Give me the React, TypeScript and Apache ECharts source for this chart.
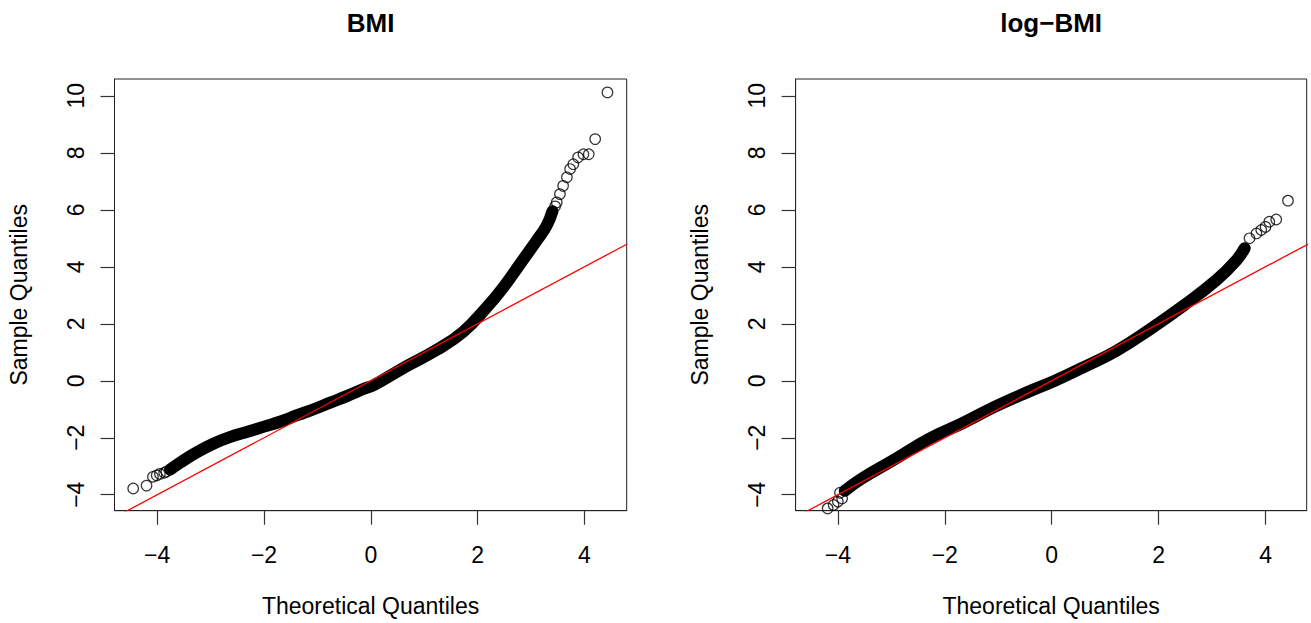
import React, { useEffect, useRef } from "react";
import * as echarts from "echarts";

// ---- data ----
const xTicks = [-4, -2, 0, 2, 4];
const yTicks = [-4, -2, 0, 2, 4, 6, 8, 10];

// BMI panel
const bmiLowTail = [[-4.45, -3.78], [-4.2, -3.68], [-4.08, -3.37], [-4.01, -3.32], [-3.95, -3.27], [-3.87, -3.23], [-3.83, -3.19]];
const bmiBand = [[-3.76, -3.12], [-3.56, -2.86], [-3.25, -2.5], [-2.94, -2.2], [-2.63, -1.97], [-2.31, -1.79], [-2.0, -1.61], [-1.69, -1.43], [-1.38, -1.21], [-1.07, -1.0], [-0.75, -0.76], [-0.44, -0.53], [-0.13, -0.28], [0.06, -0.15], [0.61, 0.45], [1.23, 1.08], [1.73, 1.72], [2.17, 2.58], [2.48, 3.28], [2.79, 4.09], [3.1, 4.91], [3.29, 5.44], [3.4, 5.95]];
const bmiHighTail = [[3.45, 6.12], [3.48, 6.26], [3.54, 6.55], [3.6, 6.84], [3.67, 7.14], [3.73, 7.43], [3.79, 7.6], [3.88, 7.84], [3.98, 7.95], [4.08, 7.95], [4.2, 8.48], [4.43, 10.12]];
const bmiQQLine = [[-4.8, -4.8], [4.8, 4.8]];

// log-BMI panel
const logLowTail = [[-4.19, -4.48], [-4.08, -4.36], [-4.0, -4.24], [-3.92, -4.13], [-3.96, -3.93]];
const logBand = [[-3.87, -3.86], [-3.55, -3.43], [-2.93, -2.75], [-2.31, -2.05], [-1.68, -1.5], [-1.06, -0.91], [-0.44, -0.39], [0.06, 0.0], [0.59, 0.47], [1.21, 1.05], [1.84, 1.81], [2.46, 2.63], [3.08, 3.53], [3.46, 4.24], [3.61, 4.65]];
const logHighTail = [[3.7, 5.0], [3.83, 5.17], [3.92, 5.29], [4.0, 5.4], [4.07, 5.58], [4.2, 5.66], [4.42, 6.32]];
const logQQLine = [[-4.8, -4.8], [4.8, 4.8]];

const titles = ["BMI", "log\u2212BMI"];
const xName = "Theoretical Quantiles";
const yName = "Sample Quantiles";

const FONT = "'Liberation Sans', Arial, Helvetica, sans-serif";
const fmt = (v: number) => (v < 0 ? "\u2212" + Math.abs(v) : String(v));

export default function App() {
  const ref = useRef<HTMLDivElement>(null);
  useEffect(() => {
    if (!ref.current) return;
    const chart = echarts.init(ref.current, null, { renderer: "svg" });
    const grids = [
      { left: 114.5, top: 79, width: 512.2, height: 431.7 },
      { left: 795.6, top: 79, width: 511.1, height: 431.7 },
    ];
    const xRanges = [[-4.8, 4.79], [-4.79, 4.77]];
    const mkX = (i: number) => ({
      type: "value",
      gridIndex: i,
      min: xRanges[i][0],
      max: xRanges[i][1],
      splitLine: { show: false },
      axisLine: { show: true, onZero: false, lineStyle: { color: "#222", width: 1 } },
      axisTick: { show: true, inside: false, length: 14, customValues: xTicks, lineStyle: { color: "#333", width: 1.2 } },
      axisLabel: { show: true, customValues: xTicks, formatter: fmt, margin: 33, fontSize: 23, color: "#000", fontFamily: FONT },
      name: xName,
      nameLocation: "middle",
      nameGap: 84,
      nameTextStyle: { fontSize: 23, color: "#000", fontFamily: FONT },
    });
    const mkY = (i: number) => ({
      type: "value",
      gridIndex: i,
      min: -4.56,
      max: 10.59,
      splitLine: { show: false },
      axisLine: { show: true, onZero: false, lineStyle: { color: "#222", width: 1 } },
      axisTick: { show: true, inside: false, length: 14, customValues: yTicks, lineStyle: { color: "#333", width: 1.2 } },
      axisLabel: { show: true, customValues: yTicks, formatter: fmt, rotate: 90, margin: 27, fontSize: 23, color: "#000", fontFamily: FONT },
      name: yName,
      nameLocation: "middle",
      nameRotate: 90,
      nameGap: 84,
      nameTextStyle: { fontSize: 23, color: "#000", fontFamily: FONT },
    });
    const circleStyle = { color: "rgba(0,0,0,0)", borderColor: "#000", borderWidth: 1.2 };
    const mkSeries = (i: number, low: number[][], band: number[][], high: number[][], qq: number[][]) => [
      {
        type: "line", xAxisIndex: i, yAxisIndex: i, data: band, smooth: 0.45, symbol: "none",
        lineStyle: { color: "#000", width: 12, cap: "round", join: "round" }, z: 2, silent: true,
      },
      {
        type: "scatter", xAxisIndex: i, yAxisIndex: i, data: [...low, ...high], symbol: "circle", symbolSize: 10.5,
        itemStyle: circleStyle, z: 3, silent: true,
      },
      {
        type: "line", xAxisIndex: i, yAxisIndex: i, data: qq, symbol: "none", clip: true,
        lineStyle: { color: "#ff0000", width: 1.3 }, z: 4, silent: true,
      },
    ];
    chart.setOption({
      animation: false,
      backgroundColor: "#fff",
      grid: grids.map((g) => ({ ...g, show: true, borderColor: "#222", borderWidth: 1, backgroundColor: "transparent", containLabel: false, outerBoundsMode: "none" })),
      xAxis: [mkX(0), mkX(1)],
      yAxis: [mkY(0), mkY(1)],
      series: [
        ...mkSeries(0, bmiLowTail, bmiBand, bmiHighTail, bmiQQLine),
        ...mkSeries(1, logLowTail, logBand, logHighTail, logQQLine),
      ],
      graphic: titles.map((t, i) => ({
        type: "text",
        x: grids[i].left + grids[i].width / 2,
        y: 23,
        style: { text: t, fontSize: 26, fontWeight: "bold", fontFamily: FONT, fill: "#000", textAlign: "center", textVerticalAlign: "middle" },
      })),
    });
    return () => chart.dispose();
  }, []);
  return <div ref={ref} style={{ position: "absolute", left: 0, top: 0, width: 1311, height: 623 }} />;
}
